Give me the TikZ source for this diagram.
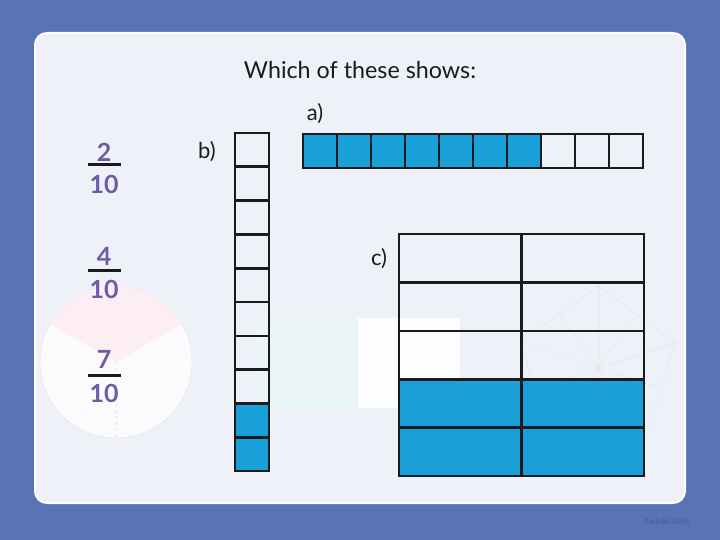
\documentclass[tikz,border=0pt]{standalone}
\usepackage{fontspec}
\setmainfont{Lato}
\usetikzlibrary{positioning}
\usetikzlibrary{calc}
\definecolor{slideblue}{HTML}{5A73B5}
\definecolor{cardgrey}{HTML}{EEF1F8}
\definecolor{cellblue}{HTML}{1AA0D8}
\definecolor{inkdark}{HTML}{1B1B1F}
\definecolor{fracpurple}{HTML}{6E5BA6}
\definecolor{fadepink}{HTML}{FCEEF3}
\definecolor{fadecyan}{HTML}{EAF5F8}
\definecolor{fadeline}{HTML}{E6E3EA}
\definecolor{markblue}{HTML}{4A60A2}

\begin{document}
\begin{tikzpicture}[x=1pt,y=-1pt,
    cell/.style={draw=inkdark,line width=2.6pt,inner sep=0pt},
    numtext/.style={text=fracpurple,font=\fontsize{25}{25}\selectfont\bfseries,inner sep=0pt},
    fracbar/.style={fill=inkdark,inner sep=0pt,minimum width=33pt,minimum height=3pt},
    label/.style={font=\fontsize{22}{25}\selectfont,text=inkdark,inner sep=0pt}]

    \useasboundingbox (0,0) rectangle (720,540);
\fill[slideblue] (0,0) rectangle (720,540);
\draw[white,line width=2pt,fill=cardgrey,rounded corners=12pt] (35,33) rectangle (685,503);

% faded decorations behind
\draw[fadeline,fill=white!75!cardgrey] (116,362) circle (76);
\fill[fadepink] (116,362) -- ++(210:76) arc (210:330:76) -- cycle;
\draw[fadeline,dashed] (116,362) -- (116,438);
\fill[fadecyan] (255,318) rectangle (358,408);
\fill[white!85!cardgrey] (358,318) rectangle (460,408);
\foreach \k/\ang in {1/-90,2/-18,3/54,4/126,5/198} {
  \coordinate (p\k) at ($(598,368)+(\ang:82)$);
  \draw[fadeline] (598,368) -- (p\k);
  \draw[fadeline] (598,368) -- ++(\ang+36:66);
}
\draw[fadeline] (p1) -- (p2) -- (p3) -- (p4) -- (p5) -- cycle;

% heading
\node[label,font=\fontsize{23.3}{26}\selectfont] (title) at (360,70) {Which of these shows:};
\node[label] (labela) at (315,114) {a)};
\node[label] (labelb) at (207,152) {b)};
\node[label] (labelc) at (379,259) {c)};

% fractions
\node[numtext] (num2) at (104,152) {2};
\node[fracbar] (bar2) at (104.5,165) {};
\node[numtext] (den2) at (104,184) {10};
\node[numtext] (num4) at (104,256) {4};
\node[fracbar] (bar4) at (104.5,270) {};
\node[numtext] (den4) at (104,289) {10};
\node[numtext] (num7) at (104,359) {7};
\node[fracbar] (bar7) at (104.5,375) {};
\node[numtext] (den7) at (104,393) {10};

% a) ten in a row, seven shaded
\foreach \i in {1,...,10} {
  \ifnum\i<8
    \node[cell,fill=cellblue,minimum width=34pt,minimum height=34pt] (a\i) at (303+17+34*\i-34,151) {};
  \else
    \node[cell,minimum width=34pt,minimum height=34pt] (a\i) at (303+17+34*\i-34,151) {};
  \fi
}

% b) ten in a column, two shaded
\foreach \i in {1,...,10} {
  \ifnum\i>8
    \node[cell,fill=cellblue,minimum width=34pt,minimum height=33.8pt] (b\i) at (252,133+16.9+33.8*\i-33.8) {};
  \else
    \node[cell,minimum width=34pt,minimum height=33.8pt] (b\i) at (252,133+16.9+33.8*\i-33.8) {};
  \fi
}

% c) two by five, bottom two rows shaded
\foreach \r in {1,...,5} {
  \foreach \c in {1,2} {
    \ifnum\r>3
      \node[cell,fill=cellblue,minimum width=122.5pt,minimum height=48.4pt] (c\r\c) at (399+61.25+122.5*\c-122.5,234+24.2+48.4*\r-48.4) {};
    \else
      \node[cell,minimum width=122.5pt,minimum height=48.4pt] (c\r\c) at (399+61.25+122.5*\c-122.5,234+24.2+48.4*\r-48.4) {};
    \fi
  }
}

\node[text=markblue,font=\fontsize{9}{9}\selectfont\bfseries,inner sep=0pt] (mark) at (667,521) {twinkl.com};

  \end{tikzpicture}
\end{document}
